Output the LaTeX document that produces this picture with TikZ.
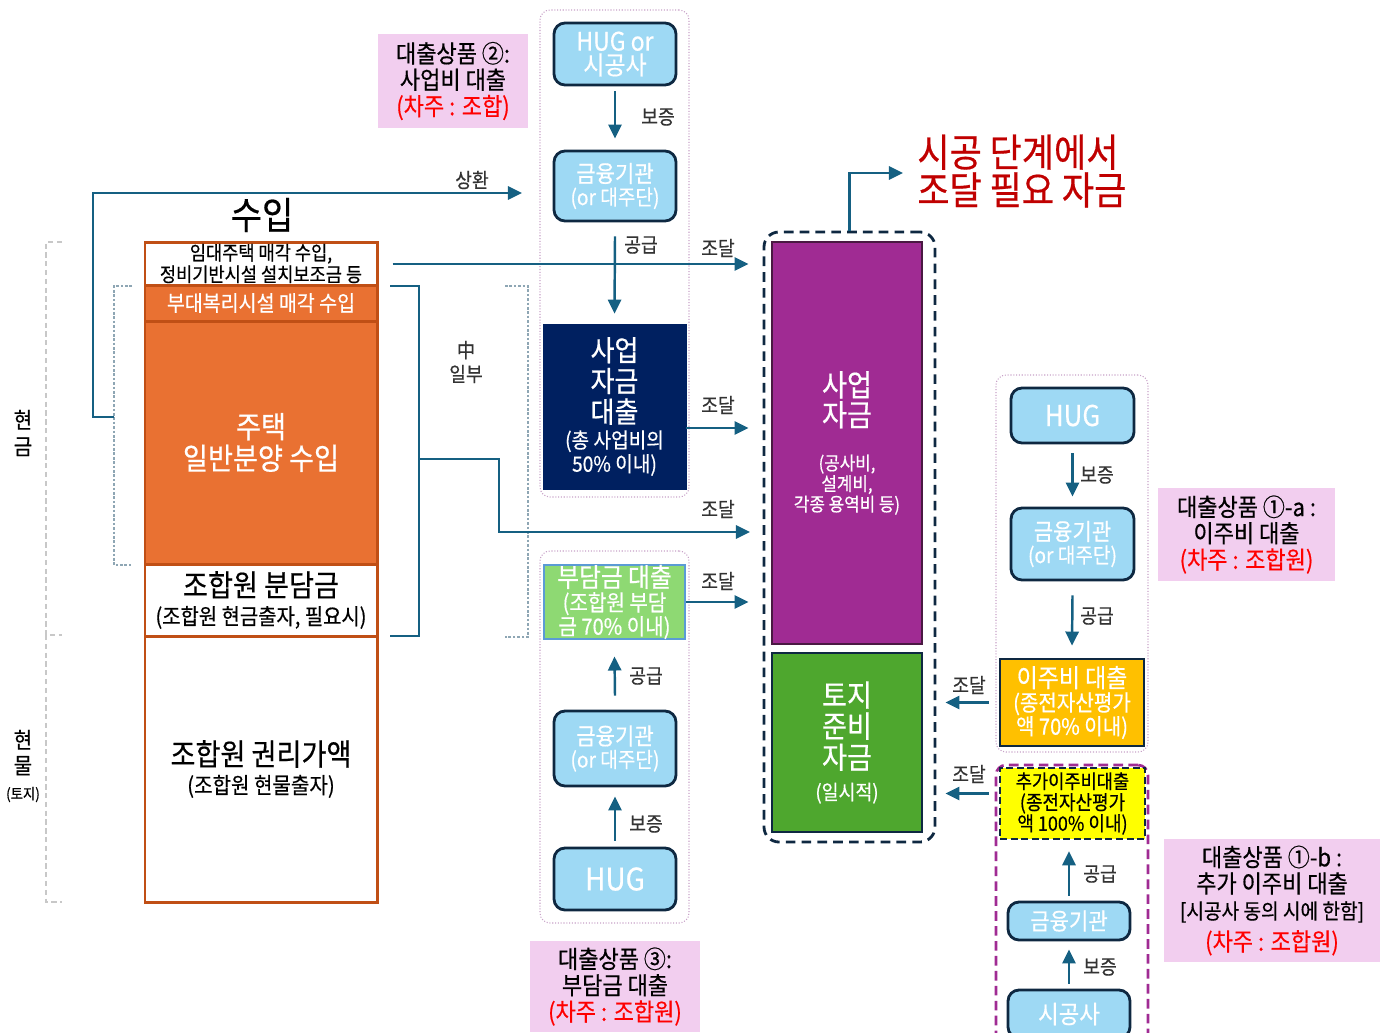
\documentclass[tikz,border=0pt]{standalone}
\usepackage{fontspec}
\setmainfont{Noto Sans CJK KR}[FakeStretch=0.9, Scale=1.21, FakeBold=0.5]
\usetikzlibrary{arrows.meta,calc}
\definecolor{arr}{HTML}{156082}
\definecolor{dk}{HTML}{0E2841}
\definecolor{lb}{HTML}{9ED9F4}
\definecolor{org}{HTML}{E97132}
\definecolor{orgb}{HTML}{C04F15}
\definecolor{pinkl}{HTML}{F2CEEF}
\definecolor{navy}{HTML}{002060}
\definecolor{purp}{HTML}{A02B93}
\definecolor{purpd}{HTML}{4A1942}
\definecolor{lgreen}{HTML}{4EA72E}
\definecolor{bgreen}{HTML}{8ED973}
\definecolor{bblue}{HTML}{5B9BD5}
\definecolor{gold}{HTML}{FFC000}
\definecolor{ylw}{HTML}{FFFF00}
\definecolor{redd}{HTML}{C00000}
\definecolor{grp}{HTML}{C8A2C8}
\definecolor{gbr}{HTML}{C8C8C8}
\definecolor{bbr}{HTML}{8EA6B4}
\newcommand\fz[2]{\fontsize{#1}{#2}\selectfont}
\newcommand\mkbox[7][]{%
  \pgfmathsetmacro\mbcx{(#3+#5)/2}%
  \pgfmathsetmacro\mbcy{(#4+#6)/2}%
  \pgfmathsetmacro\mbw{(#5-#3)*0.02}%
  \pgfmathsetmacro\mbh{(#6-#4)*0.02}%
  \node[inner sep=0pt, align=center, minimum width=\mbw cm, minimum height=\mbh cm, #1] (#2) at (\mbcx,\mbcy) {#7};%
}
\tikzset{
  arw/.style={draw=arr, line width=1.4pt, -{Triangle[length=8pt,width=7.5pt]}},
  arl/.style={draw=arr, line width=1.4pt},
  lbl/.style={font=\fz{9.5}{11}, text=black!80, inner sep=0pt},
  pill/.style={draw=dk, fill=lb, rounded corners=0.22cm, line width=1.6pt, text=white},
  obox/.style={draw=orgb, line width=1.7pt},
  plab/.style={fill=pinkl},
  grpbox/.style={draw=grp, densely dotted, line width=0.6pt, rounded corners=0.2cm},
  gbrk/.style={draw=gbr, dash pattern=on 3pt off 2pt, line width=0.8pt},
  bbrk/.style={draw=bbr, dash pattern=on 1.5pt off 1pt, line width=0.6pt}
}
\begin{document}
\begin{tikzpicture}[x=0.02cm,y=-0.02cm]
\useasboundingbox (0,0) rectangle (1385,1032);

% groups
\mkbox[grpbox]{gA}{540}{10}{689}{497}{}
\mkbox[grpbox]{gB}{540}{551}{689}{923}{}
\mkbox[grpbox]{gC}{996}{375}{1148}{752}{}

% brackets
\draw[gbrk] (62,242) -- (46,242) -- (46,635) -- (62,635);
\draw[gbrk] (46,635) -- (46,902) -- (62,902);
\draw[bbrk] (132,286) -- (114,286) -- (114,565) -- (132,565);
\draw[bbrk] (505,286) -- (528,286) -- (528,637) -- (505,637);
\coordinate (brkL) at (114,417);

\node[font=\fz{10.5}{15}, align=center] (cash) at (23,433) {현\\금};
\node[font=\fz{10.5}{14.5}, align=center] (kind) at (23,766) {현\\물\\\fz{7}{12}(토지)};

% left column
\node[font=\fz{17.8}{20}] (title) at (262,215) {수입};
\mkbox[obox, fill=white, font=\fz{9.2}{11.3}]{rent}{145}{242}{377}{285}{임대주택 매각 수입,\\정비기반시설 설치보조금 등}
\mkbox[obox, fill=org, text=white, font=\fz{10.2}{12}]{sub}{145}{285}{377}{321}{부대복리시설 매각 수입}
\mkbox[obox, fill=org, text=white, font=\fz{14.2}{18}]{sale}{145}{321}{377}{564}{주택\\일반분양 수입}
\mkbox[obox, fill=white, font=\fz{14.2}{16}]{share}{145}{564}{377}{636}{조합원 분담금\\\fz{10.4}{13}(조합원 현금출자, 필요시)}
\mkbox[obox, fill=white, font=\fz{14.2}{16}]{right}{145}{636}{377}{902}{조합원 권리가액\\\fz{10.5}{13}(조합원 현물출자)}

% middle column
\mkbox[pill, font=\fz{12}{13.6}]{hug1}{554}{23}{676}{85}{HUG or\\시공사}
\mkbox[pill, font=\fz{11}{13}]{fin1}{554}{151}{676}{221}{금융기관\\\fz{10}{13}(or 대주단)}
\mkbox[draw=navy, fill=navy, text=white, font=\fz{13.6}{17.5}]{loan1}{543}{324}{686}{489}{사업\\자금\\대출\\[-3pt]\fz{10}{13.5}(총 사업비의\\[-4pt]\fz{10}{13.5}50\% 이내)}
\mkbox[draw=bblue, fill=bgreen, line width=1.6pt, text=white, font=\fz{12.4}{13.6}]{burden}{544}{565}{685}{639}{부담금 대출\\\fz{10.5}{13.6}(조합원 부담\\\fz{10.5}{13.6}금 70\% 이내)}
\mkbox[pill, font=\fz{11}{13}]{fin2}{554}{711}{676}{786}{금융기관\\\fz{10}{13}(or 대주단)}
\mkbox[pill, font=\fz{14.6}{17}]{hug2}{554}{848}{676}{910}{HUG}

% center
\mkbox[draw=dk, dash pattern=on 5.5pt off 3.5pt, line width=1.6pt, rounded corners=0.3cm]{phase}{764}{232}{935}{842}{}
\mkbox[draw=purpd, fill=purp, line width=1.2pt, text=white, font=\fz{14.2}{17}]{fund}{772}{242}{922}{644}{사업\\자금\\[8pt]\fz{8.8}{11.5}(공사비,\\[-5.3pt]\fz{8.8}{11.5}설계비,\\[-5.3pt]\fz{8.8}{11.5}각종 용역비 등)}
\mkbox[draw=dk, fill=lgreen, line width=1.4pt, text=white, font=\fz{14.2}{17.7}]{land}{772}{653}{922}{832}{토지\\준비\\자금\\\fz{9.6}{12}(일시적)}
\node[anchor=west, align=left, text=redd, font=\fz{18.3}{21.5}, inner sep=0pt] (head) at (917,171) {시공 단계에서\\조달 필요 자금};

% right column
\mkbox[pill, font=\fz{13.5}{16}]{hug3}{1011}{388}{1134}{443}{HUG}
\mkbox[pill, font=\fz{11}{13}]{fin3}{1011}{508}{1134}{580}{금융기관\\\fz{10}{13}(or 대주단)}
\mkbox[draw=dk, fill=gold, line width=1.6pt, text=white, font=\fz{12}{13.5}]{mig}{1000}{659}{1144}{746}{이주비 대출\\\fz{10.5}{13}(종전자산평가\\\fz{10.5}{13}액 70\% 이내)}
\mkbox[draw=purp, dash pattern=on 5.5pt off 3pt, line width=1.5pt, rounded corners=0.2cm]{gD}{996}{765}{1148}{1045}{}
\mkbox[draw=dk, fill=ylw, dash pattern=on 4pt off 2pt, line width=1.4pt, font=\fz{9.2}{12}]{addm}{1000}{768}{1145}{839}{추가이주비대출\\\fz{9.4}{12}(종전자산평가\\\fz{9.4}{12}액 100\% 이내)}
\mkbox[pill, font=\fz{11}{13}]{fin4}{1008}{902}{1130}{940}{금융기관}
\mkbox[pill, font=\fz{11.7}{13}]{con}{1008}{990}{1130}{1038}{시공사}

% pink labels
\mkbox[plab, font=\fz{11.5}{15}]{p2}{378}{34}{528}{128}{대출상품 ②:\\사업비 대출\\\textcolor{red}{(차주 : 조합)}}
\mkbox[plab, font=\fz{11.5}{15}]{p3}{530}{941}{700}{1032}{대출상품 ③:\\부담금 대출\\\textcolor{red}{(차주 : 조합원)}}
\mkbox[plab, font=\fz{11.5}{15}]{p1a}{1158}{488}{1335}{581}{대출상품 ①-a :\\이주비 대출\\\textcolor{red}{(차주 : 조합원)}}
\mkbox[plab, font=\fz{11.5}{15}]{p1b}{1164}{839}{1380}{962}{대출상품 ①-b :\\추가 이주비 대출\\\fz{10}{15}[시공사 동의 시에 한함]\\[3pt]\textcolor{red}{(차주 : 조합원)}}

% edge labels
\node[lbl] (t1) at (472,180) {상환};
\node[lbl] (t2) at (658,117) {보증};
\node[lbl] (t3) at (641,245) {공급};
\node[lbl] (t4) at (718,248) {조달};
\node[lbl] (t5) at (718,405) {조달};
\node[lbl] (t6) at (718,509) {조달};
\node[lbl] (t7) at (718,581) {조달};
\node[lbl, align=center, font=\fz{9.5}{13.5}] (t8) at (466,362) {中\\일부};
\node[lbl] (t9) at (646,676) {공급};
\node[lbl] (t10) at (646,824) {보증};
\node[lbl] (t11) at (1097,475) {보증};
\node[lbl] (t12) at (1097,616) {공급};
\node[lbl] (t13) at (969,685) {조달};
\node[lbl] (t14) at (969,774) {조달};
\node[lbl] (t15) at (1100,874) {공급};
\node[lbl] (t16) at (1100,967) {보증};

% connectors
\coordinate (rep) at (522,193);
\draw[arw] (brkL) -- (93,417) |- (rep);
\draw[arw] ($(rent.east)+(14,0.5)$) -- ($(phase.west |- rent.east)+(-14,0.5)$);
\coordinate (rb1) at (390,286);
\coordinate (rb2) at (390,636);
\coordinate (rbm) at (419,459);
\coordinate (rbe) at (750,532);
\draw[arl] (rb1) -| (rbm) |- (rb2);
\draw[arw] (rbm) -- (499,459) |- (rbe);
\draw[arw] ($(loan1.east)+(0,21.5)$) -- ($(phase.west |- loan1.east)+(-14,21.5)$);
\draw[arw] (burden.east) -- ($(phase.west |- burden.east)+(-14,0)$);

\draw[arw] ([yshift=-0.1cm]hug1.south) -- ([yshift=0.22cm]fin1.north);
\draw[arw] ([yshift=-0.28cm]fin1.south) -- ([yshift=0.2cm]loan1.north);
\draw[arw] ([yshift=0.28cm]fin2.north) -- ([yshift=-0.32cm]burden.south);
\draw[arw] ([yshift=0.12cm]hug2.north) -- ([yshift=-0.18cm]fin2.south);

\draw[arw] ([yshift=-0.18cm]hug3.south) -- ([yshift=0.2cm]fin3.north);
\draw[arw] ([yshift=-0.28cm]fin3.south) -- ([yshift=0.24cm]mig.north);
\draw[arw] ([yshift=0.1cm]fin4.north) -- ([yshift=-0.22cm]fin4.north |- addm.south);
\draw[arw] ([yshift=0.1cm]con.north) -- ([yshift=-0.16cm]fin4.south);

\draw[arw] ($(mig.west)+(-10,0)$) -- ($(phase.east |- mig.west)+(9,0)$);
\draw[arw] ($(addm.west)+(-10,-10)$) -- ($(phase.east |- addm.west)+(9,-10)$);

\coordinate (tgt) at (903,173);
\draw[arw] (phase.north) |- (tgt);
\end{tikzpicture}
\end{document}
